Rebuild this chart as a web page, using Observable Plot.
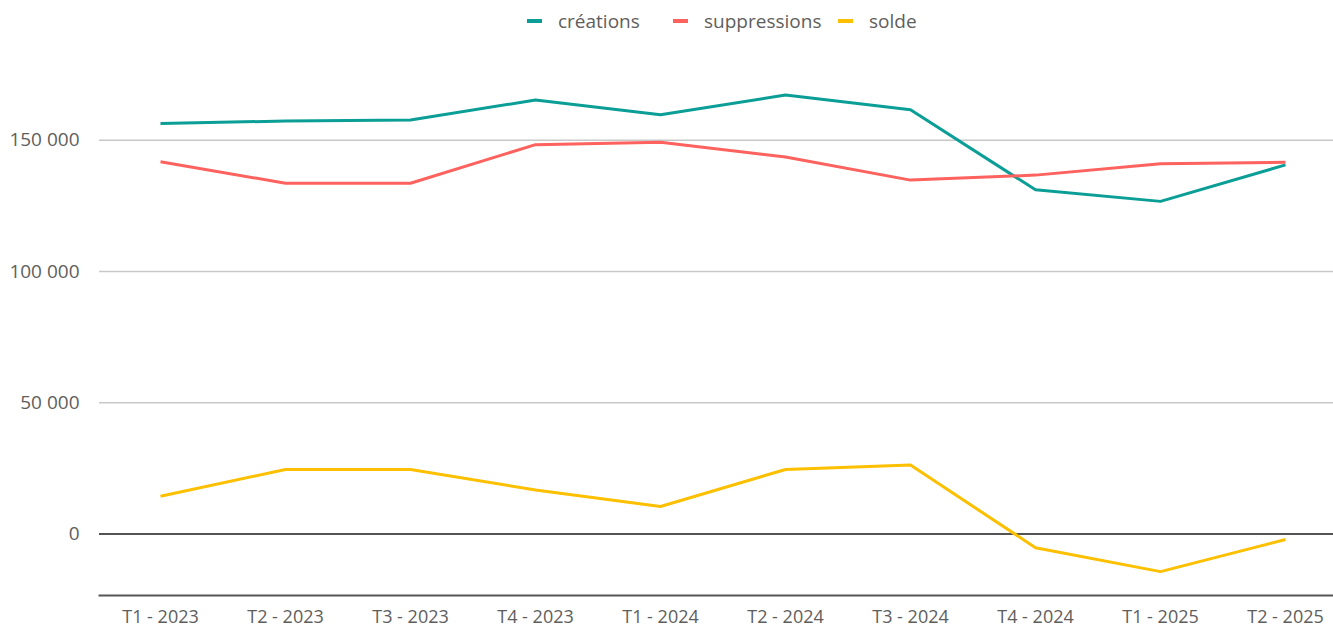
<!DOCTYPE html>
<html><head><meta charset="utf-8">
<script src="https://cdn.jsdelivr.net/npm/d3@7"></script>
<script src="https://cdn.jsdelivr.net/npm/@observablehq/plot@0.6"></script>
<style>
body{margin:0;background:#fff;font-family:"Open Sans",sans-serif;}
#legend{position:relative;height:42px;font-size:19px;color:#605e5c;}
.item{position:absolute;top:0;height:42px;display:flex;align-items:center;white-space:nowrap}
.sw{width:15px;height:4px;margin-right:16px}
#chart svg{display:block}
</style></head><body>
<div id="legend"></div><div id="chart"></div>
<script>
const quarters = ["T1 - 2023","T2 - 2023","T3 - 2023","T4 - 2023","T1 - 2024","T2 - 2024","T3 - 2024","T4 - 2024","T1 - 2025","T2 - 2025"];
const creations = [156400,157300,157700,165300,159700,167200,161600,131100,126700,140600];
const suppressions = [141800,133600,133600,148300,149200,143600,134800,136700,141000,141600];
const solde = [14400,24600,24600,16800,10500,24600,26300,-5200,-14300,-2100];
const seriesNames = ["créations","suppressions","solde"];
const seriesColors = ["#0a9e96","#fd625e","#fcc000"];
const yTicks = [0,50000,100000,150000];

const seriesValues = [creations, suppressions, solde];
const data = [];
seriesNames.forEach((s, i) => quarters.forEach((q, j) => data.push({series: s, quarter: q, value: seriesValues[i][j]})));

const fmt = d3.formatLocale({thousands: " ", grouping: [3], decimal: ",", currency: ["", ""]}).format(",");

// legend
const legendLefts = [527, 673, 838];
const legend = document.getElementById("legend");
seriesNames.forEach((s, i) => {
  const it = document.createElement("div");
  it.className = "item";
  it.style.left = legendLefts[i] + "px";
  const sw = document.createElement("span");
  sw.className = "sw";
  sw.style.background = seriesColors[i];
  const t = document.createElement("span");
  t.textContent = s;
  it.appendChild(sw); it.appendChild(t);
  legend.appendChild(it);
});

const chart = Plot.plot({
  width: 1333,
  height: 588,
  marginLeft: 99,
  marginRight: 0,
  marginTop: 10,
  marginBottom: 35,
  style: {fontFamily: "'Open Sans', sans-serif", fontSize: "19px", color: "#605e5c", background: "#fff"},
  x: {type: "point", domain: quarters, range: [157, 1287], padding: 0, label: null},
  y: {domain: [-23400, 183400], label: null},
  color: {domain: seriesNames, range: seriesColors},
  marks: [
    Plot.ruleY(yTicks.filter(d => d !== 0), {stroke: "#c8c8c8", strokeWidth: 1.5}),
    Plot.ruleY([0], {stroke: "#1a1a1a", strokeWidth: 1.6}),
    Plot.frame({anchor: "bottom", stroke: "#555", strokeWidth: 2}),
    Plot.axisY({ticks: yTicks, tickFormat: fmt, tickSize: 0, tickPadding: 20, label: null, fill: "#605e5c"}),
    Plot.axisX({tickSize: 0, tickPadding: 15, fontSize: 18, label: null, fill: "#605e5c"}),
    Plot.line(data, {x: "quarter", y: "value", z: "series", stroke: "series", strokeWidth: 3, strokeLinejoin: "round", strokeLinecap: "butt"})
  ]
});
document.getElementById("chart").appendChild(chart);
</script>
</body></html>
